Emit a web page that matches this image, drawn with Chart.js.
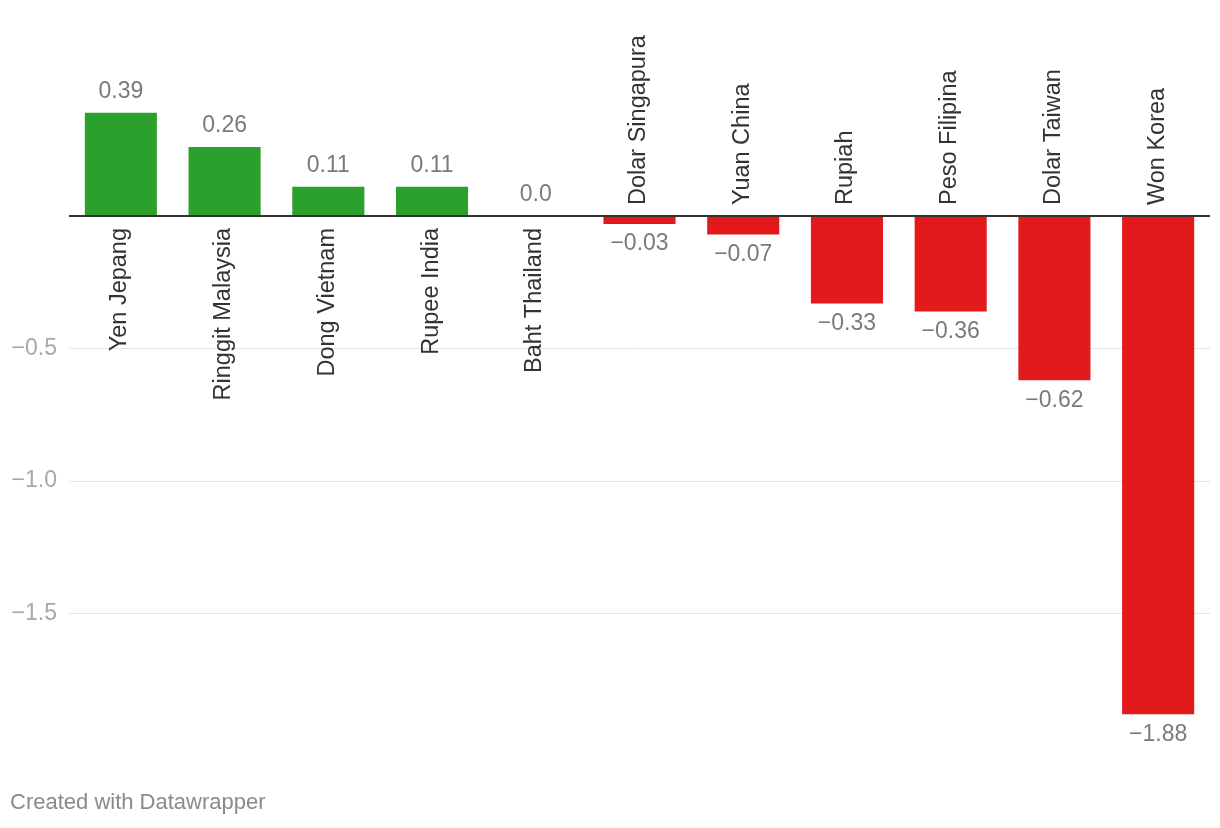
<!DOCTYPE html>
<html>
<head>
<meta charset="utf-8">
<script src="https://cdn.jsdelivr.net/npm/chart.js@4/dist/chart.umd.min.js"></script>
<style>
  html, body { margin: 0; padding: 0; background: #fff; }
  #wrap { position: relative; width: 1220px; height: 828px; }
  canvas { position: absolute; left: 0; top: 0; }
  #footer { position: absolute; left: 10px; top: 789px; font-family: "Liberation Sans", Arial, sans-serif; font-size: 22px; color: #8a8a8a; }
</style>
</head>
<body>
<div id="wrap">
  <canvas id="c" width="1220" height="828"></canvas>
  <div id="footer">Created with Datawrapper</div>
</div>
<script>
const categories = ["Yen Jepang", "Ringgit Malaysia", "Dong Vietnam", "Rupee India", "Baht Thailand", "Dolar Singapura", "Yuan China", "Rupiah", "Peso Filipina", "Dolar Taiwan", "Won Korea"];
const values = [0.39, 0.26, 0.11, 0.11, 0.0, -0.03, -0.07, -0.33, -0.36, -0.62, -1.88];
const yTicks = [-1.5, -1.0, -0.5, 0];

const GREEN = "#2ca02c";
const RED = "#e31a1c";
const FONT = '"Liberation Sans", Arial, Helvetica, sans-serif';

function fmtVal(v) {
  const s = v === 0 ? "0.0" : Math.abs(v).toFixed(2);
  return v < 0 ? "\u2212" + s : s;
}
function fmtTick(v) {
  const s = Math.abs(v).toFixed(1);
  return v < 0 ? "\u2212" + s : s;
}

const labelPlugin = {
  id: "labels",
  afterDatasetsDraw(chart) {
    const ctx = chart.ctx;
    const meta = chart.getDatasetMeta(0);
    const yScale = chart.scales.y;
    const zeroY = yScale.getPixelForValue(0);
    ctx.save();
    meta.data.forEach((bar, i) => {
      const v = values[i];
      const x = bar.x;
      ctx.font = "23px " + FONT;
      ctx.fillStyle = "#7a7a7a";
      ctx.textAlign = "center";
      ctx.textBaseline = "middle";
      const yv = yScale.getPixelForValue(v);
      if (v >= 0) ctx.fillText(fmtVal(v), x, yv - 21);
      else ctx.fillText(fmtVal(v), x, yv + 20);
      ctx.save();
      ctx.font = "23.5px " + FONT;
      ctx.fillStyle = "#333333";
      ctx.textBaseline = "middle";
      if (v >= 0) {
        ctx.translate(x - 1, zeroY + 12);
        ctx.rotate(-Math.PI / 2);
        ctx.textAlign = "right";
      } else {
        ctx.translate(x - 1, zeroY - 11);
        ctx.rotate(-Math.PI / 2);
        ctx.textAlign = "left";
      }
      ctx.fillText(categories[i], 0, 0);
      ctx.restore();
    });
    ctx.restore();
  }
};

new Chart(document.getElementById("c"), {
  type: "bar",
  data: {
    labels: categories,
    datasets: [{
      data: values,
      backgroundColor: values.map(v => v >= 0 ? GREEN : RED),
      borderWidth: 0,
      categoryPercentage: 1.0,
      barPercentage: 0.695
    }]
  },
  options: {
    responsive: false,
    animation: false,
    devicePixelRatio: 1,
    layout: { padding: { left: 0, right: 10, top: 83.5, bottom: 82 } },
    plugins: { legend: { display: false }, tooltip: { enabled: false } },
    scales: {
      x: { display: false },
      y: {
        min: -2.0,
        max: 0.5,
        afterBuildTicks(scale) { scale.ticks = yTicks.map(v => ({ value: v })); },
        afterFit(scale) { scale.width = 69; },
        border: { display: false },
        grid: {
          drawTicks: false,
          color: c => c.tick && c.tick.value === 0 ? "#333333" : "#e5e5e5",
          lineWidth: c => c.tick && c.tick.value === 0 ? 2 : 1
        },
        ticks: {
          padding: 12,
          color: "#a8a8a8",
          font: { family: FONT, size: 23 },
          callback: v => v === 0 ? "" : fmtTick(v)
        }
      }
    }
  },
  plugins: [labelPlugin]
});
</script>
</body>
</html>
